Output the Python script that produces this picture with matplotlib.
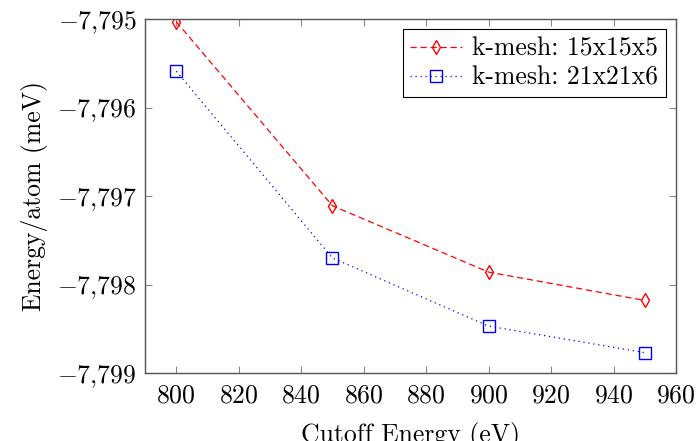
import matplotlib
matplotlib.use('Agg')
import matplotlib.pyplot as plt
from matplotlib.ticker import FuncFormatter

plt.rcParams['font.family'] = 'serif'
plt.rcParams['font.serif'] = ['cmr10']
plt.rcParams['mathtext.fontset'] = 'cm'
plt.rcParams['axes.formatter.use_mathtext'] = True

# data
cutoff = [800, 850, 900, 950]
e_15x15x5 = [-7795.03, -7797.11, -7797.86, -7798.18]
e_21x21x6 = [-7795.59, -7797.70, -7798.47, -7798.77]

fig = plt.figure(figsize=(6.98, 4.41), dpi=100)
ax = fig.add_axes([145/698, 1-373/441, (676-145)/698, (373-19)/441])

ax.plot(cutoff, e_15x15x5, color='red', linestyle=(0, (5, 3)), linewidth=0.9,
        marker='d', markersize=7, markerfacecolor='none', markeredgewidth=1.0,
        label='k-mesh: 15x15x5')
ax.plot(cutoff, e_21x21x6, color='blue', linestyle=(0, (1, 3)), linewidth=0.9,
        marker='s', markersize=8, markerfacecolor='none', markeredgewidth=1.0,
        label='k-mesh: 21x21x6')

ax.set_xlim(790, 960)
ax.set_ylim(-7799, -7795)
ax.set_xticks(range(800, 961, 20))
ax.set_yticks([-7799, -7798, -7797, -7796, -7795])

def yfmt(v, pos):
    s = f'{abs(int(round(v))):,}'.replace(',', '{,}')
    return ('$-' if v < 0 else '$') + s + '$'

def xfmt(v, pos):
    return f'${int(v)}$'

ax.yaxis.set_major_formatter(FuncFormatter(yfmt))
ax.xaxis.set_major_formatter(FuncFormatter(xfmt))

ax.tick_params(direction='in', top=True, right=True, length=5, width=0.8,
               color='#888888', labelsize=18.5)
ax.tick_params(axis='x', pad=8)
ax.tick_params(axis='y', pad=6)
for sp in ax.spines.values():
    sp.set_color('#555555')
    sp.set_linewidth(1.0)

ax.set_xlabel('Cutoff Energy (eV)', fontsize=18.5, labelpad=10)
ax.set_ylabel('Energy/atom (meV)', fontsize=18.5, labelpad=6)

leg = ax.legend(loc='upper right', fontsize=18.5, frameon=True, fancybox=False,
                edgecolor='black', framealpha=1, handlelength=2.0,
                borderaxespad=0.4, labelspacing=0.2, handletextpad=0.4,
                borderpad=0.3)
leg.get_frame().set_linewidth(0.8)

fig.savefig('out.png', dpi=100)
